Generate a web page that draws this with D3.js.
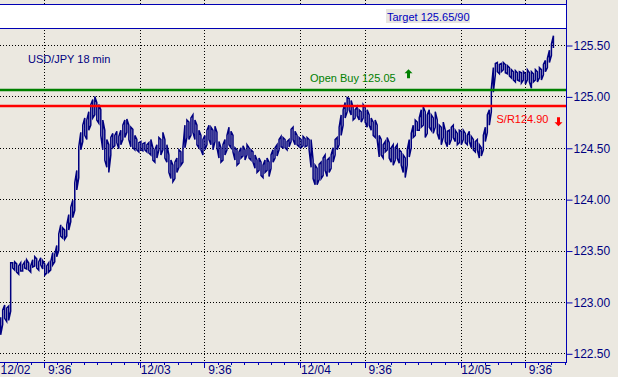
<!DOCTYPE html>
<html>
<head>
<meta charset="utf-8">
<title>USD/JPY 18 min</title>
<script src="https://d3js.org/d3.v7.min.js"></script>
<style>
body {
  margin: 0;
  padding: 0;
  background: #EBE8E0;
}
svg {
  display: block;
  font-family: "Liberation Sans", Arial, sans-serif;
}
</style>
</head>
<body>
<svg width="618" height="377"></svg>
<script>

// 1. data : 18 minute bars, highs and lows
var highs = [
  122.85, 122.92, 122.97, 122.94, 122.96, 123.38,
  123.38, 123.39, 123.37, 123.35, 123.38, 123.36, 123.39, 123.41, 123.38, 123.35, 123.41,
  123.44, 123.42, 123.39, 123.43, 123.40,
  123.37, 123.35, 123.38, 123.39,
  123.48, 123.46, 123.55, 123.66,
  123.75, 123.72, 123.70, 123.75, 123.85, 123.92,
  123.99, 124.16, 124.28, 124.51,
  124.65, 124.72, 124.79, 124.77, 124.85, 124.92,
  124.97, 125.00, 124.94, 124.92,
  124.87, 124.77, 124.67, 124.58, 124.53,
  124.60, 124.64, 124.62, 124.66, 124.61, 124.67, 124.72,
  124.77, 124.78, 124.72, 124.70, 124.68, 124.62,
  124.58, 124.55, 124.56, 124.54,
  124.55, 124.53, 124.55, 124.58, 124.50, 124.48, 124.53, 124.60, 124.58, 124.65, 124.58, 124.53,
  124.43, 124.38, 124.33, 124.36,
  124.40, 124.48, 124.46, 124.50,
  124.72, 124.77,
  124.75, 124.79, 124.82, 124.77, 124.72, 124.67, 124.62,
  124.58, 124.62, 124.67,
  124.72, 124.70, 124.67, 124.71, 124.65,
  124.56, 124.50, 124.53, 124.58,
  124.62, 124.70, 124.66, 124.62,
  124.50, 124.48, 124.46, 124.50,
  124.52, 124.48, 124.53, 124.50, 124.48, 124.46,
  124.43, 124.38, 124.40, 124.36, 124.33, 124.38, 124.40, 124.36, 124.43,
  124.48, 124.50, 124.53,
  124.58, 124.61, 124.60, 124.58, 124.56, 124.58,
  124.68, 124.70, 124.66, 124.62,
  124.60, 124.58, 124.61, 124.59, 124.60, 124.58,
  124.58,
  124.38, 124.33, 124.30, 124.34, 124.36,
  124.40, 124.43, 124.38, 124.40, 124.43,
  124.50, 124.58, 124.60, 124.70,
  124.82, 124.87,
  124.94, 124.99, 124.98, 124.96,
  124.89, 124.87, 124.90, 124.87, 124.85,
  124.92, 124.89, 124.87, 124.82,
  124.79, 124.75, 124.77, 124.72,
  124.62,
  124.58, 124.53, 124.56, 124.60, 124.55, 124.50,
  124.53,
  124.50, 124.53, 124.48, 124.46,
  124.43, 124.40, 124.48,
  124.58, 124.64,
  124.72, 124.77, 124.75, 124.79, 124.87, 124.90,
  124.85, 124.82, 124.87, 124.82, 124.79, 124.85, 124.77,
  124.72, 124.70, 124.75, 124.67,
  124.66, 124.67, 124.70, 124.72, 124.67, 124.64, 124.67,
  124.66, 124.67, 124.64, 124.62, 124.66,
  124.61, 124.58, 124.56, 124.58,
  124.53, 124.50,
  124.62, 124.70,
  124.82, 124.87,
  125.08, 125.28,
  125.32, 125.33, 125.31,
  125.32, 125.33, 125.31, 125.30, 125.28,
  125.26, 125.24, 125.25, 125.23, 125.24,
  125.23, 125.24, 125.22, 125.26, 125.23, 125.24, 125.22,
  125.26, 125.24, 125.28, 125.26,
  125.31, 125.35, 125.37,
  125.45, 125.51, 125.59
];
var lows = [
  122.68, 122.78, 122.84, 122.81, 122.82, 122.91,
  123.33, 123.31, 123.29, 123.27, 123.30, 123.30, 123.33, 123.32, 123.31, 123.29, 123.34,
  123.35, 123.33, 123.31, 123.36, 123.32,
  123.26, 123.28, 123.29, 123.31,
  123.36, 123.39, 123.44, 123.50,
  123.64, 123.62, 123.61, 123.64, 123.70, 123.78,
  123.82, 123.89, 124.09, 124.21,
  124.48, 124.56, 124.62, 124.58, 124.67, 124.72,
  124.79, 124.82, 124.77, 124.74,
  124.62, 124.48, 124.38, 124.31, 124.26,
  124.43, 124.50, 124.52, 124.55, 124.49, 124.53, 124.58,
  124.60, 124.65, 124.58, 124.51, 124.50, 124.48,
  124.48, 124.46, 124.48, 124.47,
  124.48, 124.46, 124.45, 124.43, 124.38, 124.36, 124.40, 124.48, 124.43, 124.48, 124.40, 124.36,
  124.26, 124.20, 124.17, 124.20,
  124.26, 124.31, 124.33, 124.36,
  124.50, 124.60,
  124.58, 124.62, 124.65, 124.58, 124.53, 124.50, 124.48,
  124.43, 124.48, 124.53,
  124.58, 124.53, 124.48, 124.56, 124.50,
  124.40, 124.36, 124.38, 124.43,
  124.48, 124.53, 124.50, 124.46,
  124.38, 124.33, 124.35, 124.40,
  124.42, 124.38, 124.43, 124.40, 124.38, 124.36,
  124.30, 124.26, 124.28, 124.23, 124.21, 124.26, 124.28, 124.22, 124.30,
  124.36, 124.40, 124.42,
  124.48, 124.51, 124.50, 124.50, 124.48, 124.51,
  124.56, 124.58, 124.53, 124.53,
  124.51, 124.50, 124.52, 124.51, 124.52, 124.48,
  124.31,
  124.20, 124.14, 124.14, 124.19, 124.20,
  124.23, 124.28, 124.22, 124.26, 124.30,
  124.36, 124.43, 124.48, 124.53,
  124.62, 124.72,
  124.79, 124.85, 124.87, 124.82,
  124.77, 124.79, 124.81, 124.77, 124.75,
  124.79, 124.75, 124.70, 124.72,
  124.67, 124.62, 124.60, 124.58,
  124.41,
  124.43, 124.40, 124.46, 124.48, 124.40, 124.36,
  124.33,
  124.38, 124.40, 124.35, 124.33,
  124.26, 124.21, 124.33,
  124.41, 124.50,
  124.60, 124.62, 124.67, 124.67, 124.70, 124.72,
  124.60, 124.64, 124.70, 124.67, 124.64, 124.70, 124.64,
  124.58, 124.53, 124.60, 124.56,
  124.51, 124.53, 124.58, 124.60, 124.56, 124.53, 124.55,
  124.53, 124.58, 124.55, 124.53, 124.56,
  124.50, 124.48, 124.46, 124.48,
  124.40, 124.42,
  124.48, 124.56,
  124.65, 124.72,
  124.85, 125.04,
  125.21, 125.24, 125.22,
  125.24, 125.26, 125.23, 125.22, 125.20,
  125.18, 125.16, 125.14, 125.16, 125.15,
  125.13, 125.16, 125.12, 125.16, 125.14, 125.08, 125.14,
  125.16, 125.14, 125.18, 125.16,
  125.21, 125.24, 125.28,
  125.33, 125.40, 125.47
];
var firstBar = new Date(2002, 11, 2, 3, 6);
var barMinutes = 18;

var priceTicks = [122.5, 123.0, 123.5, 124.0, 124.5, 125.0, 125.5];
var timeTicks = [
  {t: new Date(2002, 11, 2, 0, 0), label: "12/02", day: true},
  {t: new Date(2002, 11, 2, 9, 36), label: "9:36", day: false},
  {t: new Date(2002, 11, 3, 0, 0), label: "12/03", day: true},
  {t: new Date(2002, 11, 3, 9, 36), label: "9:36", day: false},
  {t: new Date(2002, 11, 4, 0, 0), label: "12/04", day: true},
  {t: new Date(2002, 11, 4, 9, 36), label: "9:36", day: false},
  {t: new Date(2002, 11, 5, 0, 0), label: "12/05", day: true},
  {t: new Date(2002, 11, 5, 9, 36), label: "9:36", day: false}
];
var openBuy = 125.05;
var support = 124.90;
var title = "USD/JPY 18 min";
var targetText = "Target 125.65/90";

// 2. set up
var W = 618, H = 377;
var plotRight = 566, plotBottom = 362;
var navy = "#000080", axisBlue = "#0000B4";

var svg = d3.select("svg");

var x = d3.scaleTime()
  .domain([new Date(2002, 11, 2, 3, 0), new Date(2002, 11, 5, 15, 47)])
  .range([0, plotRight]);
var y = d3.scaleLinear().domain([122.5, 125.5]).range([353.3, 45]);

var bars = highs.map(function(h, i) {
  return {t: d3.timeMinute.offset(firstBar, i * barMinutes), hi: h, lo: lows[i]};
});

// minor ticks every two hours (at x:36)
var minorTicks = d3.range(0, 48).map(function(k) { return new Date(2002, 11, 2, 1 + 2 * k, 36); })
  .filter(function(d) { return x(d) > 0 && x(d) < plotRight && !(d.getHours() == 9 && d.getMinutes() == 36); });

svg.append("rect").attr("width", W).attr("height", H).attr("fill", "#EBE8E0");

// 3. grid
svg.append("g").selectAll("line").data(priceTicks).enter().append("line")
  .attr("x1", 0).attr("x2", plotRight)
  .attr("y1", function(d) { return Math.round(y(d)) + 0.5; })
  .attr("y2", function(d) { return Math.round(y(d)) + 0.5; })
  .attr("stroke", "#000").attr("stroke-dasharray", "1,2");

svg.append("g").selectAll("line").data(timeTicks.filter(function(d) { return x(d.t) > 0; })).enter().append("line")
  .attr("x1", function(d) { return Math.round(x(d.t)) + 0.5; })
  .attr("x2", function(d) { return Math.round(x(d.t)) + 0.5; })
  .attr("y1", 0).attr("y2", plotBottom)
  .attr("stroke", "#000").attr("stroke-dasharray", "1,2");

// white band at top
svg.append("rect").attr("x", 0).attr("y", 4.5).attr("width", plotRight).attr("height", 24)
  .attr("fill", "#fff");
svg.append("line").attr("x1", 0).attr("x2", plotRight).attr("y1", 4.5).attr("y2", 4.5)
  .attr("stroke", axisBlue);
svg.append("line").attr("x1", 0).attr("x2", plotRight).attr("y1", 28.5).attr("y2", 28.5)
  .attr("stroke", axisBlue);
svg.append("rect").attr("x", 386).attr("y", 9).attr("width", 84).attr("height", 14)
  .attr("fill", "#E8E6E0");
svg.append("text").attr("x", 387).attr("y", 20.5).attr("font-size", "11px")
  .attr("fill", "#0000C0").text(targetText);

// 4. price bars
var pts = [];
bars.forEach(function(b, i) {
  var xi = x(b.t);
  if (i % 2 == 0) { pts.push([xi, y(b.hi)], [xi, y(b.lo)]); }
  else { pts.push([xi, y(b.lo)], [xi, y(b.hi)]); }
});
svg.append("path")
  .attr("d", d3.line()(pts))
  .attr("fill", "none")
  .attr("stroke", navy)
  .attr("stroke-width", 1.5);

// 5. level lines
svg.append("line").attr("x1", 0).attr("x2", plotRight)
  .attr("y1", Math.round(y(openBuy)) - 1).attr("y2", Math.round(y(openBuy)) - 1)
  .attr("stroke", "#008000").attr("stroke-width", 2.5);
svg.append("line").attr("x1", 0).attr("x2", plotRight)
  .attr("y1", Math.round(y(support)) - 1).attr("y2", Math.round(y(support)) - 1)
  .attr("stroke", "#FF0000").attr("stroke-width", 2.5);

svg.append("text").attr("x", 28).attr("y", 63.3).attr("font-size", "11px")
  .attr("fill", navy).text(title);

var gy = y(openBuy) - 1;
svg.append("text").attr("x", 310).attr("y", gy - 8.5).attr("font-size", "11px")
  .attr("fill", "#008000").text("Open Buy " + openBuy.toFixed(2));
svg.append("path")
  .attr("transform", "translate(408.5," + (gy - 21) + ")")
  .attr("d", "M0,0 L4,4 L1.5,4 L1.5,9 L-1.5,9 L-1.5,4 L-4,4 Z")
  .attr("fill", "#008000");

var ry = y(support) - 1;
svg.append("text").attr("x", 496.5).attr("y", ry + 17.5).attr("font-size", "11px")
  .attr("fill", "#FF0000").text("S/R" + support.toFixed(2));
svg.append("path")
  .attr("transform", "translate(558.5," + (ry + 20.5) + ")")
  .attr("d", "M0,0 L4,-4 L1.5,-4 L1.5,-9 L-1.5,-9 L-1.5,-4 L-4,-4 Z")
  .attr("fill", "#FF0000");

// 6. axes
svg.append("line").attr("x1", plotRight + 0.5).attr("x2", plotRight + 0.5)
  .attr("y1", 0).attr("y2", plotBottom + 0.5).attr("stroke", axisBlue);
svg.append("line").attr("x1", 0).attr("x2", plotRight + 1)
  .attr("y1", plotBottom + 0.5).attr("y2", plotBottom + 0.5).attr("stroke", axisBlue);

var yAxis = d3.axisRight(y).tickValues(priceTicks).tickSize(6).tickPadding(1)
  .tickFormat(d3.format(".2f"));
var gY = svg.append("g").attr("transform", "translate(" + (plotRight + 0.5) + ",0.5)").call(yAxis);
gY.select(".domain").remove();
gY.selectAll("line").attr("stroke", axisBlue);
gY.selectAll("text").attr("fill", navy).style("font-size", "12px")
  .style("font-family", "'Liberation Sans', Arial, sans-serif");

svg.append("g").selectAll("line").data(minorTicks).enter().append("line")
  .attr("x1", function(d) { return Math.round(x(d)) + 0.5; })
  .attr("x2", function(d) { return Math.round(x(d)) + 0.5; })
  .attr("y1", plotBottom).attr("y2", plotBottom + 3)
  .attr("stroke", axisBlue);
svg.append("g").selectAll("line").data(timeTicks.filter(function(d) { return x(d.t) > 0; })).enter().append("line")
  .attr("x1", function(d) { return Math.round(x(d.t)) + 0.5; })
  .attr("x2", function(d) { return Math.round(x(d.t)) + 0.5; })
  .attr("y1", plotBottom).attr("y2", plotBottom + 6)
  .attr("stroke", axisBlue);
svg.append("g").selectAll("text").data(timeTicks).enter().append("text")
  .attr("x", function(d) { return Math.max(0, x(d.t)) + (d.day ? 0.5 : 4); })
  .attr("y", 374)
  .attr("font-size", "12px")
  .attr("fill", navy)
  .text(function(d) { return d.label; });

</script>
</body>
</html>
